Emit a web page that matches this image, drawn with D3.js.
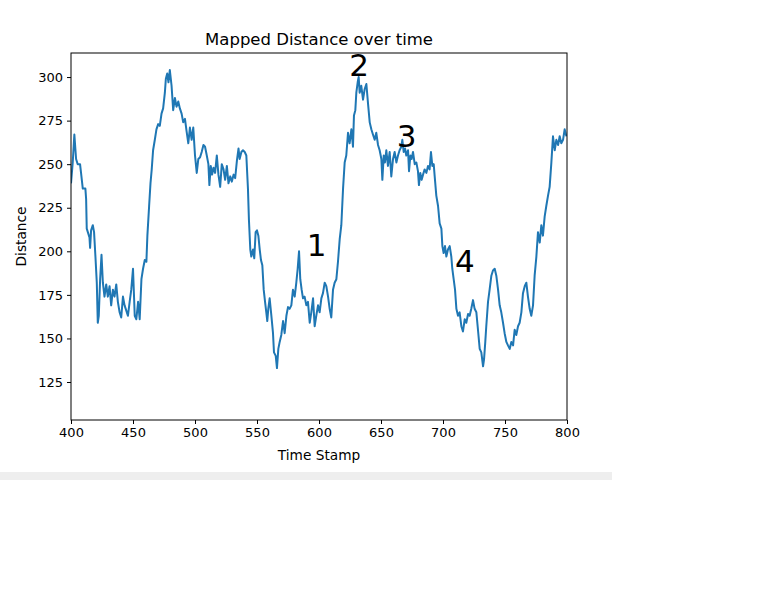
<!DOCTYPE html>
<html>
<head>
<meta charset="utf-8">
<script src="https://cdn.jsdelivr.net/npm/d3@7"></script>
<style>
  body { margin: 0; background: #fff; }
  svg text { font-family: "DejaVu Sans", sans-serif; }
</style>
</head>
<body>
<div id="chart"></div>
<script>
// readings
let time_stamp = [
  400, 401.4, 402.7, 404.1, 405.4, 407.3, 408.1, 409.5, 411.6, 412.2, 412.7, 414.9, 415.4, 416.2, 417.6, 418.6, 419.7,
  420.8, 421.6, 422.4, 423.5, 424.6, 425.7, 427, 428.4, 429.7, 431.1, 432.4, 433.8, 435.1, 436.5, 437.8, 439.2,
  440.5, 441.9, 443.2, 444.6, 445.9, 447.3, 448.6, 450, 451.4, 452.7, 454.1, 455.4, 456.8, 458.1, 459.5, 460.8,
  461.6, 463, 464.1, 465.1, 466.2, 467.6, 468.9, 470.3, 471.6, 473, 474.3, 475.7, 476.5, 477.6, 478.6, 479.7,
  481.1, 482.4, 483.8, 485.1, 486.5, 487.8, 489.2, 490.5, 491.9, 493.2, 494.6, 495.9, 497.3, 498.6, 500, 501.4,
  502.7, 504.1, 505.4, 506.8, 508.1, 509.5, 510.8, 511.6, 512.7, 513.8, 514.9, 516.2, 517.6, 518.9, 520.3, 521.6,
  523, 524.3, 525.7, 527, 528.4, 529.7, 531.1, 532.4, 533.8, 535.1,
  536, 537.4, 538.7, 540.1, 541.4, 542.7, 543.5, 544.6, 545.4, 546.8, 547.8, 548.9, 550, 551.1, 552.2, 553.2,
  554.3, 555.4, 556.5, 557.5, 558.3, 559.1, 560.2, 561.6, 562.9, 563.7, 565.1, 566.1, 567.2, 568.3, 569.6, 571,
  572.3, 573.7, 575, 576.3, 577.7, 579, 580.4, 581.7, 582.8, 583.9, 584.9, 586, 587.1, 588.4, 589.8, 591.1, 592.5,
  593.8, 595.2, 596.5, 597.8, 599.2, 600.5, 601.9, 603.2, 604.6, 605.9, 607.3, 608.6, 609.9, 611.3, 612.6, 614,
  615.3, 616.7, 618, 619.4, 620.7, 622, 623.4, 624.7, 626.1, 627.4, 628.2, 629.3, 630.1, 631.2, 632, 632.8, 634.1,
  635.5, 636.8, 638.2, 639.5, 640.9, 642.2, 643.5, 644.9, 646.2, 647.6, 648.9, 650.3, 651.1, 652.2, 653.2, 654.3,
  655.6, 657, 658.3, 659.7, 661, 662.4, 663.7, 665,
  666.4, 667.2, 668.3, 669.4, 670.4, 671.8, 672.6, 673.7, 674.7, 675.8, 677.2, 678.5, 679.8, 680.6, 681.7, 682.8,
  683.9, 685.2, 686.6, 687.9, 689.2, 690.3, 691.4, 692.5, 693.3, 694.6, 696, 697.3, 698.7, 699.5, 700.5, 701.6,
  702.7, 704, 705.4, 706.7, 707.5, 708.6, 709.7, 710.8, 712.1, 713.4, 714.8, 716.1, 717.5, 718.8, 720.2, 721.5,
  722.8, 724.2, 725.5, 726.9, 728.2, 729.6, 730.9, 732.3, 733.1, 734.1, 734.9, 736.3, 737.6, 739, 740.3, 741.7,
  743, 744.4, 745.7, 747, 748.4, 749.7, 751.1, 752.4, 753.8, 755.1, 756.5, 757.8, 759.1, 760.5, 761.8, 763.2,
  764.5, 765.9, 767.2, 768.5, 769.9, 771.2, 772.6, 773.9, 775.3, 776.6, 778, 779.3, 780.6, 782, 783.3, 784.7,
  786, 787.4, 788.7, 790.1, 791.4, 792.8, 794.1, 795.4, 796.8, 798.1, 799.5
]
let distance = [
  239, 251, 267, 253, 250, 250, 245, 236, 236, 230, 213, 208, 202, 212, 215, 211, 197,
  182, 159, 163, 184, 198, 182, 174, 181, 174, 180, 169, 178, 174, 181, 171, 165,
  162, 174, 169, 166, 163, 171, 178, 190, 163, 161, 171, 161, 184, 190, 195, 194,
  209, 226, 239, 247, 258, 264, 270, 273, 272, 279, 282, 291, 299, 302, 297, 304,
  295, 281, 288, 283, 286, 282, 279, 274, 276, 269, 262, 271, 264, 271, 255, 245,
  253, 254, 257, 261, 260, 255, 250, 238, 249, 244, 248, 245, 255, 244, 237, 250,
  247, 241, 249, 239, 243, 240, 244, 242, 252, 259,
  253, 257, 258, 257, 255, 236, 218, 201, 197, 201, 196, 211, 212, 209, 201, 195,
  192, 178, 171, 165, 160, 167, 173, 163, 153, 142, 140, 133, 144, 148, 152, 160,
  153, 163, 168, 167, 169, 178, 174, 182, 190, 200, 184, 178, 173, 174, 169, 171, 159,
  165, 173, 157, 163, 169, 165, 173, 176, 182, 180, 174, 167, 162, 178, 182, 184,
  194, 207, 215, 236, 251, 255, 268, 262, 270, 260, 278, 281, 291, 297, 300, 291, 295,
  287, 293, 296, 285, 274, 270, 267, 264, 268, 261, 258, 253, 241, 255, 251, 258,
  249, 257, 243, 253, 257, 251, 255, 258,
  260, 264, 257, 259, 255, 258, 246, 255, 253, 257, 250, 251, 246, 238, 245, 241,
  244, 247, 245, 249, 247, 257, 249, 250, 243, 232, 226, 216, 213, 203, 199, 203,
  197, 201, 203, 197, 190, 184, 178, 167, 163, 165, 157, 154, 161, 159, 164, 163,
  167, 172, 167, 165, 155, 144, 142, 134, 138, 148, 157, 171, 178, 186, 189, 190,
  186, 178, 169, 165, 159, 153, 148, 146, 144, 148, 146, 155, 152, 157, 159, 165,
  176, 180, 182, 174, 167, 163, 169, 186, 197, 211, 205, 215, 209, 220, 226, 232,
  237, 251, 266, 258, 264, 261, 266, 262, 264, 270, 266
]
let x_ticks = [400, 450, 500, 550, 600, 650, 700, 750, 800]
let y_ticks = [125, 150, 175, 200, 225, 250, 275, 300]
let note_labels = ["1", "2", "3", "4"]
let note_time = [598, 632.3, 670.6, 717.7]
let note_dist = [197.2, 300.5, 259.8, 188]

let w_page = 765
let h_page = 600
let m_left = 71, m_right = 567, m_top = 53, m_bottom = 420

let svg = d3.select("#chart").append("svg")
            .attr("width", w_page)
            .attr("height", h_page)

// grey strip under the figure
svg.append("rect")
   .attr("x", 0)
   .attr("y", 472)
   .attr("width", 612)
   .attr("height", 8)
   .attr("fill", "#eeeeee")

let x = d3.scaleLinear().domain([400, 800]).range([m_left, m_right])
let y = d3.scaleLinear().domain([103.2, 313.8]).range([m_bottom, m_top])

svg.append("defs").append("clipPath")
   .attr("id", "plot_clip")
   .append("rect")
   .attr("x", m_left).attr("y", m_top)
   .attr("width", m_right - m_left).attr("height", m_bottom - m_top)

let line = d3.line()
             .x((d, i) => x(time_stamp[i]))
             .y(d => y(d))

svg.append("path")
   .datum(distance)
   .attr("d", line)
   .attr("fill", "none")
   .attr("stroke", "#1f77b4")
   .attr("stroke-width", 2)
   .attr("stroke-linejoin", "round")
   .attr("clip-path", "url(#plot_clip)")

// axes
svg.append("g")
   .attr("transform", "translate(0," + m_bottom + ")")
   .call(d3.axisBottom(x).tickValues(x_ticks).tickSize(4).tickPadding(4).tickSizeOuter(0))
svg.append("g")
   .attr("transform", "translate(" + m_left + ",0)")
   .call(d3.axisLeft(y).tickValues(y_ticks).tickSize(4).tickPadding(4).tickSizeOuter(0))

svg.selectAll(".tick text")
   .attr("font-size", 13)
   .attr("font-family", "DejaVu Sans")
   .attr("fill", "#000")
svg.selectAll(".domain").remove()
svg.selectAll(".tick line").attr("stroke", "#000").attr("stroke-width", 1)

// frame
svg.append("rect")
   .attr("x", m_left).attr("y", m_top)
   .attr("width", m_right - m_left).attr("height", m_bottom - m_top)
   .attr("fill", "none")
   .attr("stroke", "#000")
   .attr("stroke-width", 1)

// titles
svg.append("text")
   .attr("x", (m_left + m_right) / 2)
   .attr("y", 45)
   .attr("text-anchor", "middle")
   .attr("font-size", 16.5)
   .text("Mapped Distance over time")

svg.append("text")
   .attr("x", (m_left + m_right) / 2)
   .attr("y", 460)
   .attr("text-anchor", "middle")
   .attr("font-size", 13.7)
   .text("Time Stamp")

svg.append("text")
   .attr("transform", "translate(26," + ((m_top + m_bottom) / 2) + ") rotate(-90)")
   .attr("text-anchor", "middle")
   .attr("font-size", 13.7)
   .text("Distance")

// numbered notes
svg.selectAll(".note")
   .data(note_labels)
   .enter()
   .append("text")
   .attr("class", "note")
   .attr("x", (d, i) => x(note_time[i]))
   .attr("y", (d, i) => y(note_dist[i]))
   .attr("text-anchor", "middle")
   .attr("font-family", "Open Sans")
   .attr("font-size", 31)
   .attr("fill", "#000")
   .text(d => d)
</script>
</body>
</html>
